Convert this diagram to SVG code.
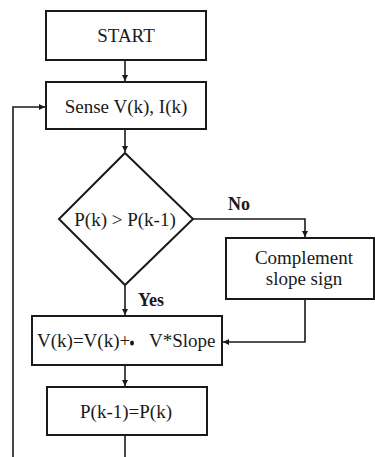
<svg xmlns="http://www.w3.org/2000/svg" width="375" height="457" viewBox="0 0 375 457">
<style>
.box{fill:#fff;stroke:#1a1a1a;stroke-width:2}
.ln{fill:none;stroke:#1a1a1a;stroke-width:1.6}
.t{font-family:"Liberation Serif",serif;font-size:19px;fill:#1a1a1a;text-anchor:middle}
.b{font-family:"Liberation Serif",serif;font-size:18px;font-weight:bold;fill:#1a1a1a}
</style>
<defs>
<marker id="ah" markerWidth="6" markerHeight="6" refX="6" refY="3" orient="auto" markerUnits="userSpaceOnUse">
<path d="M0,0 L6,3 L0,6 Z" fill="#1a1a1a"/>
</marker>
</defs>
<rect width="375" height="457" fill="#fff"/>
<g id="connectors">
<path class="ln" d="M125,61 V81" marker-end="url(#ah)"/>
<path class="ln" d="M125,130 V152" marker-end="url(#ah)"/>
<path class="ln" d="M193,219 H305 V237" marker-end="url(#ah)"/>
<path class="ln" d="M125,286 V315" marker-end="url(#ah)"/>
<path class="ln" d="M305,300 V342 H223" marker-end="url(#ah)"/>
<path class="ln" d="M125,366 V386" marker-end="url(#ah)"/>
<path class="ln" d="M125,436 V457"/>
<path class="ln" d="M13,457 V107 H45" marker-end="url(#ah)"/>
<text class="b" x="228" y="210">No</text>
<text class="b" x="138" y="306">Yes</text>
</g>
<g id="start">
<rect class="box" x="46" y="11" width="160" height="49"/>
<text class="t" x="126" y="42">START</text>
</g>
<g id="sense">
<rect class="box" x="46" y="82" width="160" height="47"/>
<text class="t" x="126" y="113">Sense V(k), I(k)</text>
</g>
<g id="decision">
<path class="box" d="M125,153 L193,219 L125,285 L59,219 Z"/>
<text class="t" x="125" y="226">P(k) &gt; P(k-1)</text>
</g>
<g id="complement">
<rect class="box" x="226" y="238" width="148" height="61"/>
<text class="t" x="304" y="264">Complement</text>
<text class="t" x="304" y="285">slope sign</text>
</g>
<g id="update">
<rect class="box" x="32" y="316" width="190" height="49"/>
<text class="t" x="37" y="347" style="text-anchor:start">V(k)=V(k)+</text>
<ellipse cx="132" cy="343" rx="2" ry="2.5" fill="#1a1a1a"/>
<text class="t" x="149" y="347" style="text-anchor:start">V*Slope</text>
</g>
<g id="store">
<rect class="box" x="47" y="387" width="160" height="48"/>
<text class="t" x="126" y="418">P(k-1)=P(k)</text>
</g>
</svg>
